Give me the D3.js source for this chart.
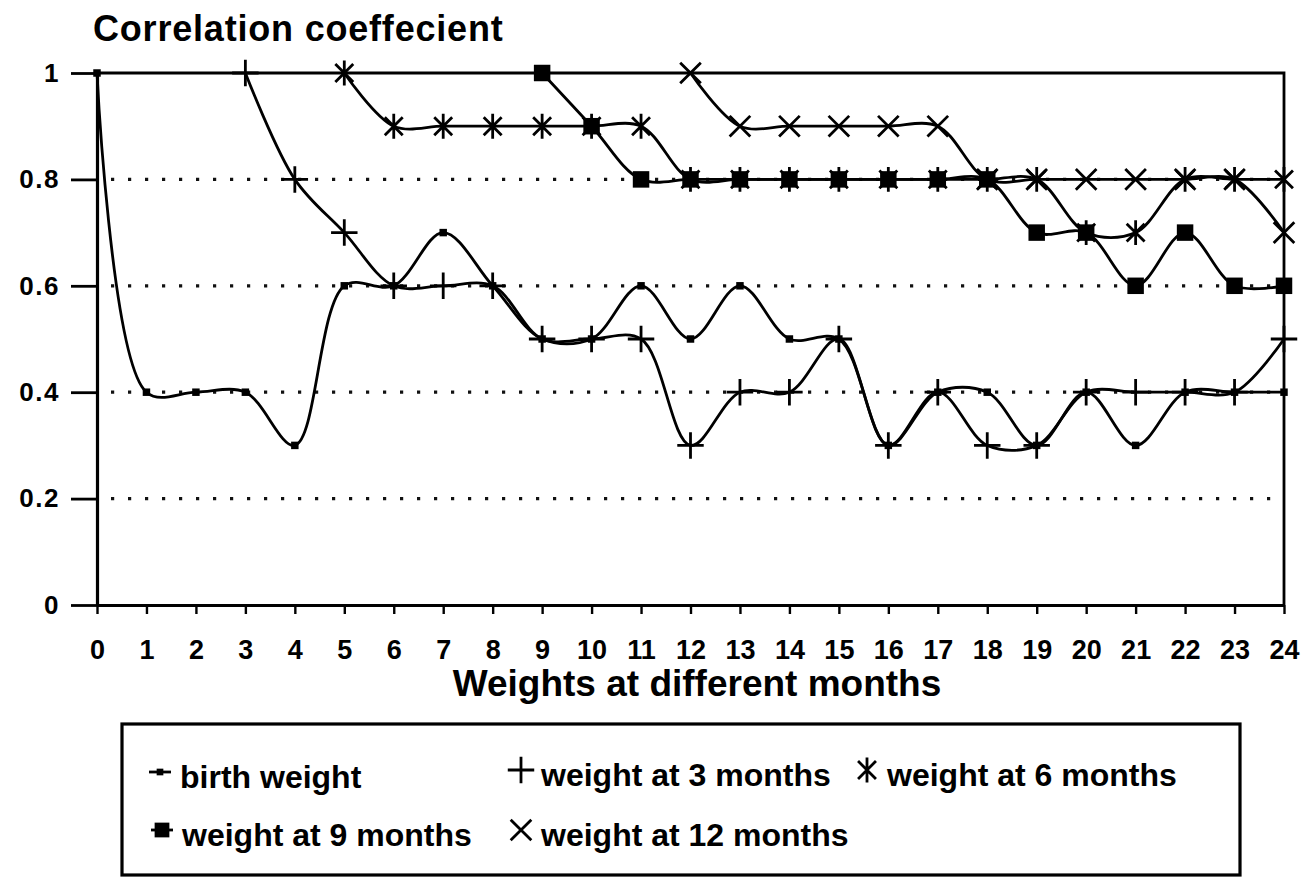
<!DOCTYPE html>
<html>
<head>
<meta charset="utf-8">
<script src="https://cdn.jsdelivr.net/npm/d3@7"></script>
<style>
  html, body { margin: 0; padding: 0; background: #fff; }
  svg { display: block; font-family: "Liberation Sans", Arial, sans-serif; font-weight: bold; }
</style>
</head>
<body>
<div id="chart"></div>
<script>
'use strict';

// Data (correlation with weight at later months)
const months = [0,1,2,3,4,5,6,7,8,9,10,11,12,13,14,15,16,17,18,19,20,21,22,23,24]
const yTicks = [0, 0.2, 0.4, 0.6, 0.8, 1]
const yTickLabels = ['0', '0.2', '0.4', '0.6', '0.8', '1']
const gridValues = [0.2, 0.4, 0.6, 0.8]

const birthWeight = [1.0,0.4,0.4,0.4,0.3,0.6,0.6,0.7,0.6,0.5,0.5,0.6,0.5,0.6,0.5,0.5,0.3,0.4,0.4,0.3,0.4,0.3,0.4,0.4,0.4]
const weight3 = [null,null,null,1.0,0.8,0.7,0.6,0.6,0.6,0.5,0.5,0.5,0.3,0.4,0.4,0.5,0.3,0.4,0.3,0.3,0.4,0.4,0.4,0.4,0.5]
const weight6 = [null,null,null,null,null,1.0,0.9,0.9,0.9,0.9,0.9,0.9,0.8,0.8,0.8,0.8,0.8,0.8,0.8,0.8,0.7,0.7,0.8,0.8,0.8]
const weight9 = [null,null,null,null,null,null,null,null,null,1.0,0.9,0.8,0.8,0.8,0.8,0.8,0.8,0.8,0.8,0.7,0.7,0.6,0.7,0.6,0.6]
const weight12 = [null,null,null,null,null,null,null,null,null,null,null,null,1.0,0.9,0.9,0.9,0.9,0.9,0.8,0.8,0.8,0.8,0.8,0.8,0.7]

const seriesNames = ['birth weight', 'weight at 3 months', 'weight at 6 months', 'weight at 9 months', 'weight at 12 months']

// Marker shapes (Excel-like): small dot, plus, star, square, cross
const dotSym = { draw(ctx, size) { const r = Math.sqrt(size) / 2; ctx.rect(-r, -r, 2 * r, 2 * r) } }
const plusSym = { draw(ctx, size) { const r = Math.sqrt(size) / 2; ctx.moveTo(-r, 0); ctx.lineTo(r, 0); ctx.moveTo(0, -r); ctx.lineTo(0, r) } }
const crossSym = { draw(ctx, size) { const r = Math.sqrt(size) / 2 * 0.78; ctx.moveTo(-r, -r); ctx.lineTo(r, r); ctx.moveTo(-r, r); ctx.lineTo(r, -r) } }
const starSym = { draw(ctx, size) {
  const r = Math.sqrt(size) / 2; const q = r * 0.72
  ctx.moveTo(-q, -q); ctx.lineTo(q, q); ctx.moveTo(-q, q); ctx.lineTo(q, -q)
  ctx.moveTo(0, -r); ctx.lineTo(0, r)
} }

const series = [
  { name: seriesNames[0], values: birthWeight, sym: dotSym, size: 56, filled: true },
  { name: seriesNames[1], values: weight3, sym: plusSym, size: 700, filled: false },
  { name: seriesNames[2], values: weight6, sym: starSym, size: 620, filled: false },
  { name: seriesNames[3], values: weight9, sym: dotSym, size: 272, filled: true },
  { name: seriesNames[4], values: weight12, sym: crossSym, size: 700, filled: false }
]

const W = 1302, H = 877
const plot = { left: 97, right: 1284, top: 73, bottom: 605 }

const svg = d3.select('#chart')
  .append('svg')
  .attr('width', W)
  .attr('height', H)

const xScale = d3.scaleLinear().domain([0, 24]).range([plot.left, plot.right])
const yScale = d3.scaleLinear().domain([0, 1]).range([plot.bottom, plot.top])

// dotted gridlines
svg.append('g')
  .selectAll('line')
  .data(gridValues)
  .join('line')
    .attr('x1', plot.left + 14)
    .attr('x2', plot.right)
    .attr('y1', d => yScale(d))
    .attr('y2', d => yScale(d))
    .attr('stroke', '#111')
    .attr('stroke-width', 3.2)
    .attr('stroke-dasharray', '3.2,13.8')

// plot frame (top + right)
svg.append('path')
  .attr('d', `M${plot.left},${plot.top}H${plot.right}V${plot.bottom}`)
  .attr('fill', 'none')
  .attr('stroke', '#000')
  .attr('stroke-width', 2.8)

// axes
const yAxis = svg.append('g')
  .attr('transform', `translate(${plot.left},0)`)
  .call(d3.axisLeft(yScale)
    .tickValues(yTicks)
    .tickFormat((d, i) => yTickLabels[i])
    .tickSize(26)
    .tickPadding(11)
    .tickSizeOuter(0))
yAxis.select('.domain').attr('stroke-width', 3.2)
yAxis.selectAll('.tick line').attr('stroke-width', 2.8)
yAxis.selectAll('.tick text')
  .attr('font-size', 26)
  .attr('font-family', '"Liberation Sans", Arial, sans-serif')
  .attr('font-weight', 'bold')
  .attr('letter-spacing', 1.5)
  .attr('fill', '#000')

const xAxis = svg.append('g')
  .attr('transform', `translate(0,${plot.bottom})`)
  .call(d3.axisBottom(xScale)
    .tickValues(months)
    .tickFormat(d3.format('d'))
    .tickSize(9)
    .tickPadding(26)
    .tickSizeOuter(0))
xAxis.select('.domain').attr('stroke-width', 3.2)
xAxis.selectAll('.tick line').attr('stroke-width', 2.4)
xAxis.selectAll('.tick text')
  .attr('font-size', 27)
  .attr('font-family', '"Liberation Sans", Arial, sans-serif')
  .attr('font-weight', 'bold')
  .attr('fill', '#000')

// titles
svg.append('text')
  .attr('x', 93)
  .attr('y', 41)
  .attr('font-size', 36)
  .attr('letter-spacing', 0.8)
  .text('Correlation coeffecient')

svg.append('text')
  .attr('x', 697)
  .attr('y', 696)
  .attr('text-anchor', 'middle')
  .attr('font-size', 37)
  .text('Weights at different months')

// series lines, smoothed like the spreadsheet original
const line = d3.line()
  .defined(d => d.v != null)
  .x(d => xScale(d.m))
  .y(d => yScale(d.v))
  .curve(d3.curveCatmullRom.alpha(0.5))

const seriesG = svg.append('g')
series.forEach(s => {
  const pts = months.map((m, i) => ({ m: m, v: s.values[i] }))
  seriesG.append('path')
    .datum(pts)
    .attr('fill', 'none')
    .attr('stroke', '#000')
    .attr('stroke-width', 2.8)
    .attr('d', line)
})

series.forEach(s => {
  const pts = months.map((m, i) => ({ m: m, v: s.values[i] })).filter(d => d.v != null)
  seriesG.append('g')
    .selectAll('path')
    .data(pts)
    .join('path')
      .attr('transform', d => `translate(${xScale(d.m)},${yScale(d.v)})`)
      .attr('d', d3.symbol().type(s.sym).size(s.size))
      .attr('fill', s.filled ? '#000' : 'none')
      .attr('stroke', '#000')
      .attr('stroke-width', s.filled ? 0 : 2.8)
})

// legend
const legend = svg.append('g')
legend.append('rect')
  .attr('x', 122)
  .attr('y', 724)
  .attr('width', 1118)
  .attr('height', 151)
  .attr('fill', '#fff')
  .attr('stroke', '#000')
  .attr('stroke-width', 3.2)

const legendPos = [
  { x: 160, y: 772 },
  { x: 521, y: 770 },
  { x: 867, y: 770 },
  { x: 162, y: 830 },
  { x: 521, y: 830 }
]

series.forEach((s, i) => {
  const p = legendPos[i]
  const g = legend.append('g').attr('transform', `translate(${p.x},${p.y})`)
  if (s.filled) {
    g.append('line')
      .attr('x1', -11).attr('x2', 11)
      .attr('stroke', '#000').attr('stroke-width', 2.8)
  }
  g.append('path')
    .attr('d', d3.symbol().type(s.sym).size(s.filled ? s.size * 0.8 : s.size))
    .attr('fill', s.filled ? '#000' : 'none')
    .attr('stroke', '#000')
    .attr('stroke-width', s.filled ? 0 : 2.8)
  g.append('text')
    .attr('x', 20)
    .attr('y', 16)
    .attr('font-size', 32)
    .text(s.name)
})
</script>
</body>
</html>
